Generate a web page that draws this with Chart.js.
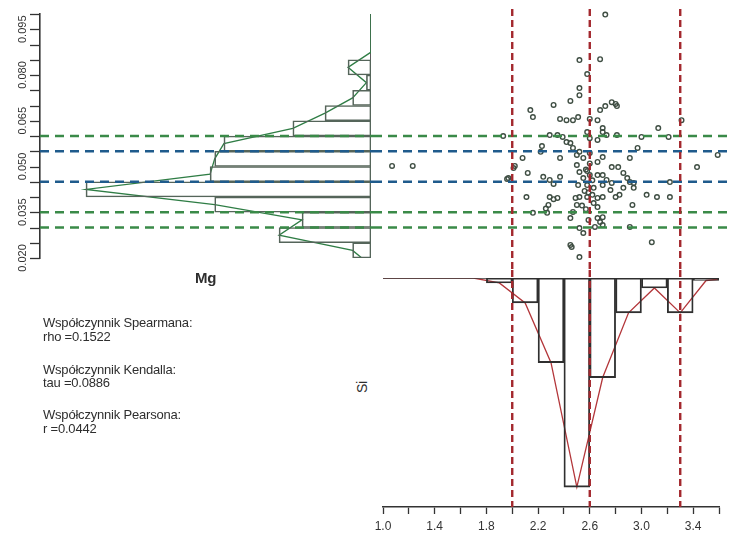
<!DOCTYPE html>
<html>
<head>
<meta charset="utf-8">
<script src="https://cdn.jsdelivr.net/npm/chart.js@4.4.1/dist/chart.umd.min.js"></script>
<style>
body{margin:0;background:#fff;width:733px;height:536px;position:relative;overflow:hidden;font-family:"Liberation Sans",Arial,sans-serif;color:#2e2e2e}
canvas{position:absolute}
#cMg{left:0;top:0}
#cSc{left:373px;top:0}
#cSi{left:373px;top:270px}
.t{position:absolute;font-size:13px;line-height:14px;white-space:nowrap;letter-spacing:-0.2px}
</style>
</head>
<body>
<canvas id="cMg" width="373" height="280"></canvas>
<canvas id="cSc" width="360" height="270"></canvas>
<canvas id="cSi" width="360" height="266"></canvas>

<div class="t" style="left:195px;top:271px;font-size:15px;font-weight:bold">Mg</div>
<div class="t" style="left:356px;top:380px;font-size:14px;transform:rotate(-90deg)">Si</div>
<div class="t" style="left:43px;top:316px">Współczynnik Spearmana:</div>
<div class="t" style="left:43px;top:330px">rho =0.1522</div>
<div class="t" style="left:43px;top:363px">Współczynnik Kendalla:</div>
<div class="t" style="left:43px;top:376px">tau =0.0886</div>
<div class="t" style="left:43px;top:408px">Współczynnik Pearsona:</div>
<div class="t" style="left:43px;top:422px">r =0.0442</div>

<script>
// Mg histogram (horizontal, left panel)
const mgMid = [0.0225, 0.0275, 0.0325, 0.0375, 0.0425, 0.0475, 0.0525, 0.0575,
               0.0625, 0.0675, 0.0725, 0.0775, 0.0825, 0.0875, 0.0925, 0.0975];
const mgCounts = [4, 20, 15, 34, 62, 35, 34, 32, 17, 10, 4, 1, 5, 0, 0, 0];
const mgTicks = [0.020, 0.025, 0.030, 0.035, 0.040, 0.045, 0.050, 0.055, 0.060,
                 0.065, 0.070, 0.075, 0.080, 0.085, 0.090, 0.095, 0.100];
const mgTickLabels = ["0.020", "", "", "0.035", "", "", "0.050", "", "",
                      "0.065", "", "", "0.080", "", "", "0.095", ""];

// Si histogram (bottom panel)
const siMid = [1.1, 1.3, 1.5, 1.7, 1.9, 2.1, 2.3, 2.5, 2.7, 2.9, 3.1, 3.3, 3.5];
const siCounts = [0, 0, 0, 0, 2, 10, 34, 84, 40, 14, 4, 14, 1];
const siTicks = [1.0, 1.2, 1.4, 1.6, 1.8, 2.0, 2.2, 2.4, 2.6, 2.8, 3.0, 3.2, 3.4, 3.6];
const siTickLabels = ["1.0", "", "1.4", "", "1.8", "", "2.2", "", "2.6", "", "3.0", "", "3.4", ""];

// reference lines
const mgRefs = [0.060, 0.055, 0.045, 0.035, 0.030];
const mgRefColors = ["#3a8a48", "#1f5b8c", "#1f5b8c", "#3a8a48", "#3a8a48"];
const siRefs = [2.0, 2.6, 3.3];

// scatter Si vs Mg
const siVals = [2.72, 2.52, 2.68, 2.58, 2.52, 2.52, 2.45, 2.32, 2.14, 2.16, 2.37, 2.42, 2.47, 2.51, 2.60, 2.66,
  2.68, 2.72, 2.77, 2.80, 2.81, 3.13, 3.31, 1.93, 2.29, 2.35, 2.39, 2.42, 2.45, 2.58, 2.60, 2.66,
  2.70, 2.22, 2.23, 2.08, 2.37, 2.47, 2.50, 2.52, 2.55, 2.60, 2.66, 2.70, 2.01, 2.12, 1.97, 2.24,
  2.29, 2.32, 2.37, 2.50, 2.52, 2.55, 2.51, 2.58, 2.60, 2.66, 2.73, 2.63, 2.11, 2.29, 2.32, 2.35,
  2.28, 2.49, 2.52, 2.58, 2.62, 2.66, 2.70, 2.63, 2.66, 2.50, 2.47, 2.16, 2.27, 2.45, 2.52, 2.55,
  2.45, 2.52, 2.68, 2.64, 2.66, 2.70, 2.73, 2.81, 3.00, 3.21, 2.97, 2.91, 3.59, 2.77, 2.82, 2.70,
  2.86, 2.89, 2.91, 2.94, 2.77, 2.70, 2.76, 2.86, 2.94, 3.22, 3.43, 2.83, 2.80, 3.04, 3.12, 3.22,
  2.93, 2.70, 2.70, 2.91, 3.08, 1.07, 1.23, 1.96, 2.02, 2.46, 2.57, 2.58, 2.56, 2.59, 2.54, 2.57,
  2.59, 2.26, 2.62, 2.60];
const mgVals = [0.0998, 0.0849, 0.0852, 0.0803, 0.0757, 0.0734, 0.0715, 0.0702, 0.0685, 0.0662, 0.0656, 0.0652, 0.0652, 0.0662, 0.0656, 0.0652,
  0.0685, 0.0698, 0.0711, 0.0705, 0.0698, 0.0626, 0.0652, 0.0600, 0.0603, 0.0603, 0.0597, 0.0580, 0.0577, 0.0613, 0.0593, 0.0587,
  0.0626, 0.0548, 0.0567, 0.0528, 0.0528, 0.0561, 0.0538, 0.0548, 0.0528, 0.0544, 0.0515, 0.0531, 0.0495, 0.0479, 0.0462, 0.0466,
  0.0456, 0.0443, 0.0466, 0.0505, 0.0482, 0.0462, 0.0439, 0.0439, 0.0472, 0.0472, 0.0456, 0.0430, 0.0400, 0.0400, 0.0393, 0.0397,
  0.0374, 0.0397, 0.0400, 0.0400, 0.0407, 0.0397, 0.0400, 0.0380, 0.0367, 0.0374, 0.0351, 0.0348, 0.0348, 0.0331, 0.0298, 0.0282,
  0.0243, 0.0203, 0.0318, 0.0302, 0.0331, 0.0613, 0.0603, 0.0603, 0.0597, 0.0597, 0.0561, 0.0528, 0.0538, 0.0498, 0.0498, 0.0472,
  0.0479, 0.0462, 0.0449, 0.0446, 0.0446, 0.0439, 0.0423, 0.0430, 0.0430, 0.0449, 0.0498, 0.0407, 0.0400, 0.0407, 0.0400, 0.0400,
  0.0374, 0.0334, 0.0308, 0.0302, 0.0252, 0.0502, 0.0502, 0.0459, 0.0502, 0.0236, 0.0490, 0.0485, 0.0420, 0.0415, 0.0372, 0.0360,
  0.0325, 0.0362, 0.0455, 0.0510];

Chart.defaults.font.family = '"Liberation Sans", Arial, sans-serif';
Chart.defaults.color = "#333";

// frequency polygons: bin mids padded with an empty bin at each end
const step = (a) => a[1] - a[0];
const mgPoly = [mgMid[0] - step(mgMid), ...mgMid, mgMid[mgMid.length - 1] + step(mgMid)]
  .map((y, i, arr) => ({ x: i === 0 || i === arr.length - 1 ? 0 : mgCounts[i - 1], y }));
const siPoly = [siMid[0] - step(siMid), ...siMid, siMid[siMid.length - 1] + step(siMid)]
  .map((x, i, arr) => ({ x, y: i === 0 || i === arr.length - 1 ? 0 : siCounts[i - 1] }));

const refLines = {
  id: "refLines",
  afterDatasetsDraw(chart, args, opts) {
    const ctx = chart.ctx, area = chart.chartArea;
    ctx.save();
    if (opts.yTicks) {
      // tick marks of the Mg axis
      const ys = chart.scales.y;
      ctx.strokeStyle = "#333";
      ctx.lineWidth = 1.3;
      mgTicks.forEach(v => {
        const py = Math.round(ys.getPixelForValue(v)) + 0.5;
        ctx.beginPath();
        ctx.moveTo(area.left - 10, py);
        ctx.lineTo(area.left, py);
        ctx.stroke();
      });
    }
    if (opts.horizontal) {
      const ys = chart.scales.y;
      ctx.lineWidth = 2.4;
      ctx.setLineDash([9, 6]);
      mgRefs.forEach((v, i) => {
        const py = ys.getPixelForValue(v);
        ctx.strokeStyle = mgRefColors[i];
        ctx.beginPath();
        ctx.moveTo(opts.fromArea ? area.left : 0, py);
        ctx.lineTo(chart.width, py);
        ctx.stroke();
      });
    }
    if (opts.vertical) {
      const xs = chart.scales.x;
      ctx.strokeStyle = "#a3282e";
      ctx.lineWidth = 2.4;
      ctx.setLineDash([7, 4]);
      siRefs.forEach(v => {
        const px = xs.getPixelForValue(v);
        ctx.beginPath();
        ctx.moveTo(px, opts.top);
        ctx.lineTo(px, opts.toArea ? area.bottom : chart.height);
        ctx.stroke();
      });
    }
    ctx.restore();
  }
};

// left panel: Mg histogram
new Chart(document.getElementById("cMg"), {
  type: "bar",
  data: {
    datasets: [
      {
        data: mgMid.map((y, i) => ({ x: mgCounts[i], y })),
        backgroundColor: "rgba(0,0,0,0)",
        borderColor: "#55655a",
        borderWidth: 1,
        borderSkipped: false,
        barPercentage: 1,
        categoryPercentage: 1
      },
      {
        type: "line",
        data: mgPoly,
        borderColor: "#2f7d45",
        borderWidth: 1.3,
        pointRadius: 0,
        tension: 0
      },
      {
        type: "line",
        data: [{ x: 0, y: mgTicks[0] }, { x: 0, y: mgTicks[mgTicks.length - 1] }],
        borderColor: "#333",
        borderWidth: 1.6,
        pointRadius: 0
      }
    ]
  },
  options: {
    indexAxis: "y",
    responsive: false,
    animation: false,
    layout: { padding: { left: 0, right: 2, top: 14, bottom: 22 } },
    plugins: {
      legend: { display: false },
      tooltip: { enabled: false },
      refLines: { horizontal: true, fromArea: true, yTicks: true }
    },
    scales: {
      x: { type: "linear", display: false, reverse: true, min: 0, max: 72 },
      y: {
        type: "linear",
        offset: false,
        min: mgTicks[0],
        max: mgTicks[mgTicks.length - 1],
        afterBuildTicks(s) { s.ticks = mgTicks.map(v => ({ value: v })); },
        afterFit(s) { s.width = 40; s.paddingTop = 0; s.paddingBottom = 0; },
        ticks: {
          autoSkip: false,
          minRotation: 90,
          maxRotation: 90,
          crossAlign: "center",
          padding: -5,
          font: { size: 11 },
          color: "#333",
          callback: (v, i) => mgTickLabels[i]
        },
        grid: { display: false },
        border: { display: true, color: "#333", width: 1.6 }
      }
    }
  },
  plugins: [refLines]
});

// right panel: scatter
new Chart(document.getElementById("cSc"), {
  type: "scatter",
  data: {
    datasets: [{
      data: siVals.map((x, i) => ({ x, y: mgVals[i] })),
      pointStyle: "circle",
      pointRadius: 2.3,
      borderWidth: 1.4,
      borderColor: "#3f4e43",
      backgroundColor: "rgba(0,0,0,0)",
      clip: false
    }]
  },
  options: {
    responsive: false,
    animation: false,
    layout: { padding: { left: 10, right: 14, top: 14, bottom: 12 } },
    plugins: {
      legend: { display: false },
      tooltip: { enabled: false },
      refLines: { horizontal: true, vertical: true, top: 9 }
    },
    scales: {
      x: { type: "linear", display: false, min: siTicks[0], max: siTicks[siTicks.length - 1] },
      y: { type: "linear", display: false, min: mgTicks[0], max: mgTicks[mgTicks.length - 1] }
    }
  },
  plugins: [refLines]
});

// bottom panel: Si histogram hanging down
new Chart(document.getElementById("cSi"), {
  type: "bar",
  data: {
    datasets: [
      {
        data: siMid.map((x, i) => ({ x, y: siCounts[i] })),
        backgroundColor: "rgba(0,0,0,0)",
        borderColor: "#2f2f2f",
        borderWidth: 1.2,
        borderSkipped: false,
        barPercentage: 1,
        categoryPercentage: 1
      },
      {
        type: "line",
        data: [{ x: siTicks[0], y: 0 }, { x: siTicks[siTicks.length - 1], y: 0 }],
        borderColor: "#3a3a3a",
        borderWidth: 1.6,
        pointRadius: 0
      },
      {
        type: "line",
        data: siPoly,
        borderColor: "#b3363a",
        borderWidth: 1.3,
        pointRadius: 0,
        tension: 0
      }
    ]
  },
  options: {
    responsive: false,
    animation: false,
    layout: { padding: { left: 10, right: 14, top: 8, bottom: 0 } },
    plugins: {
      legend: { display: false },
      tooltip: { enabled: false },
      refLines: { vertical: true, top: 0, toArea: true }
    },
    scales: {
      x: {
        type: "linear",
        offset: false,
        min: siTicks[0],
        max: siTicks[siTicks.length - 1],
        afterBuildTicks(s) { s.ticks = siTicks.map(v => ({ value: v })); },
        afterFit(s) { s.height = 29; s.paddingLeft = 0; s.paddingRight = 0; },
        ticks: {
          autoSkip: false,
          minRotation: 0,
          maxRotation: 0,
          padding: 5,
          font: { size: 12 },
          color: "#333",
          callback: (v, i) => siTickLabels[i]
        },
        grid: { offset: false, drawOnChartArea: false, drawTicks: true, tickLength: 7, tickColor: "#333", tickWidth: 1.3 },
        border: { display: true, color: "#333", width: 1.6 }
      },
      y: { type: "linear", display: false, reverse: true, min: 0, max: 92 }
    }
  },
  plugins: [refLines]
});
</script>
</body>
</html>
